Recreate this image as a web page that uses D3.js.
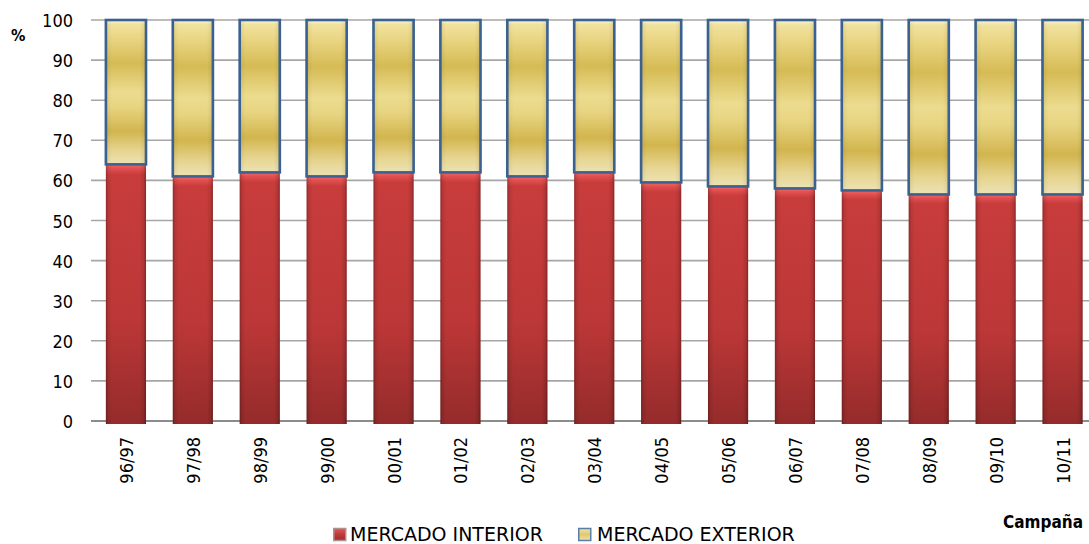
<!DOCTYPE html>
<html><head><meta charset="utf-8">
<script src="https://cdn.jsdelivr.net/npm/d3@7"></script>
<style>body{margin:0;background:#fff}svg{display:block}text{fill:#000}
.cond{font-family:"DejaVu Sans Condensed","DejaVu Sans",sans-serif;font-stretch:condensed}
.reg{font-family:"DejaVu Sans",sans-serif}</style>
</head><body><svg id="c" width="1089" height="544"></svg>
<script>
const categories = ["96/97","97/98","98/99","99/00","00/01","01/02","02/03","03/04","04/05","05/06","06/07","07/08","08/09","09/10","10/11"];
const interior = [64,61,62,61,62,62,61,62,59.5,58.5,58,57.5,56.5,56.5,56.5];
const exterior = interior.map(v => 100 - v);
const yTicks = [0,10,20,30,40,50,60,70,80,90,100];
const seriesNames = ["MERCADO INTERIOR","MERCADO EXTERIOR"];

const svg = d3.select("#c");
const y = d3.scaleLinear().domain([0,100]).range([421,20]);
const x = d3.scaleBand().domain(categories).range([92.5,1096]).paddingInner(0.4).paddingOuter(0.2);

const defs = svg.append("defs");
function lg(id, x1,y1,x2,y2, stops){
  const g = defs.append("linearGradient").attr("id",id).attr("x1",x1).attr("y1",y1).attr("x2",x2).attr("y2",y2);
  stops.forEach(s=>g.append("stop").attr("offset",s[0]).attr("stop-color",s[1]).attr("stop-opacity",s[2]==null?1:s[2]));
}
lg("redV",0,0,0,1,[[0,"#f26a6a"],[0.015,"#e45050"],[0.04,"#c83c3c"],[0.6,"#bc3737"],[1,"#952b2b"]]);
lg("edgeH",0,0,1,0,[[0,"#000",0.28],[0.06,"#000",0.08],[0.15,"#000",0],[0.85,"#000",0],[0.94,"#000",0.1],[1,"#000",0.32]]);
lg("yelV",0,0,0,1,[[0,"#fbf6dc"],[0.03,"#f0e29e"],[0.12,"#ead684"],[0.3,"#d6bb55"],[0.5,"#ecdc8f"],[0.6,"#e8d582"],[0.77,"#d2b54e"],[0.9,"#e6d48e"],[1,"#ece2b4"]]);
lg("redL",0,0,0,1,[[0,"#e05a5a"],[0.5,"#c03a3a"],[1,"#9a2e2e"]]);
lg("yelL",0,0,0,1,[[0,"#f3e4a0"],[0.5,"#e0c870"],[1,"#efe2aa"]]);

const g = svg.append("g");
g.selectAll("line.grid").data(yTicks).join("line")
  .attr("x1",91).attr("x2",1089).attr("y1",d=>y(d)).attr("y2",d=>y(d))
  .attr("stroke",d=>d===0?"#8c8c8c":"#a6a6a6").attr("stroke-width",d=>d===0?2:1.6);

g.selectAll("text.yt").data(yTicks).join("text").attr("class","cond")
  .attr("x",73).attr("y",d=>y(d)+7).attr("text-anchor","end")
  .style("font-size","18px").text(d=>d);

const bw = x.bandwidth();
const ib = g.selectAll("g.ib").data(categories).join("g");
ib.append("rect").attr("x",d=>x(d)).attr("width",bw)
  .attr("y",(d,i)=>y(interior[i])).attr("height",(d,i)=>y(0)-y(interior[i])+3)
  .attr("fill","url(#redV)");
ib.append("rect").attr("x",d=>x(d)).attr("width",bw)
  .attr("y",(d,i)=>y(interior[i])).attr("height",(d,i)=>y(0)-y(interior[i])+3)
  .attr("fill","url(#edgeH)");
const eb = g.selectAll("g.eb").data(categories).join("g");
eb.append("rect").attr("x",d=>x(d)).attr("width",bw)
  .attr("y",(d,i)=>y(interior[i]+exterior[i])).attr("height",(d,i)=>y(interior[i])-y(interior[i]+exterior[i]))
  .attr("fill","url(#yelV)");
eb.append("rect").attr("x",d=>x(d)).attr("width",bw)
  .attr("y",(d,i)=>y(interior[i]+exterior[i])).attr("height",(d,i)=>y(interior[i])-y(interior[i]+exterior[i]))
  .attr("fill","url(#edgeH)").attr("fill-opacity",0.5)
  .attr("stroke","#3a6190").attr("stroke-width",2.6);

g.selectAll("text.xt").data(categories).join("text").attr("class","cond")
  .attr("transform",d=>`translate(${x(d)+bw/2+7},437) rotate(-90)`)
  .attr("text-anchor","end").style("font-size","18px").text(d=>d);

svg.append("text").attr("class","cond").attr("x",11).attr("y",41).style("font-size","16px").style("font-weight","bold").text("%");
svg.append("text").attr("class","cond").attr("x",1083).attr("y",528).attr("text-anchor","end").style("font-size","17px").style("font-weight","bold").text("Campaña");

const leg = [{name:seriesNames[0],x:333,fill:"url(#redL)",stroke:"#b09090",tx:350},{name:seriesNames[1],x:578,fill:"url(#yelL)",stroke:"#5a7ea8",tx:597}];
const lgG = svg.selectAll("g.lg").data(leg).join("g");
lgG.append("rect").attr("x",d=>d.x+0.75).attr("y",528.5).attr("width",12).attr("height",12).attr("fill",d=>d.fill).attr("stroke",d=>d.stroke).attr("stroke-width",1.5);
lgG.append("text").attr("class","reg").attr("x",d=>d.tx).attr("y",541).style("font-size","19px").text(d=>d.name);
</script></body></html>
